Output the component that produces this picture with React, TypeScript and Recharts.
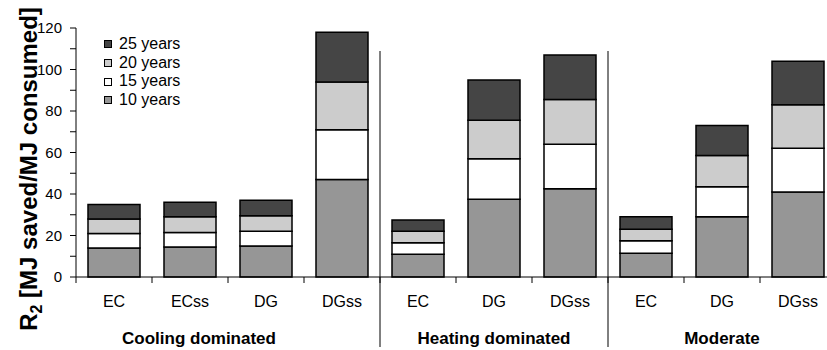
import { BarChart, Bar, XAxis, YAxis } from "recharts";

// category labels along the x axis (3 climate groups)
const categories = ["EC", "ECss", "DG", "DGss", "EC", "DG", "DGss", "EC", "DG", "DGss"];
const groupNames = ["Cooling dominated", "Heating dominated", "Moderate"];

// cumulative R2 after n years (top edge of each segment)
const yrs10 = [14, 14.5, 15, 47, 11, 37.5, 42.5, 11.5, 29, 41];
const yrs15 = [21, 21.5, 22, 71, 16.5, 57, 64, 17.5, 43.5, 62];
const yrs20 = [28, 29, 29.5, 94, 22, 75.5, 85.5, 23, 58.5, 83];
const yrs25 = [35, 36, 37, 118, 27.5, 95, 107, 29, 73, 104];

const yTicks = [0, 10, 20, 30, 40, 50, 60, 70, 80, 90, 100, 110, 120];

const series = [
  { key: "y10", name: "10 years", color: "#969696" },
  { key: "y15", name: "15 years", color: "#ffffff" },
  { key: "y20", name: "20 years", color: "#cccccc" },
  { key: "y25", name: "25 years", color: "#454545" },
];

const data = categories.map((c, i) => ({
  id: i + "-" + c,
  y10: yrs10[i],
  y15: yrs15[i] - yrs10[i],
  y20: yrs20[i] - yrs15[i],
  y25: yrs25[i] - yrs20[i],
}));

const FONT = "'Liberation Sans', Arial, sans-serif";
const HALF = 38; // half a category band

function CatTick(props: any) {
  const { x, y, payload } = props;
  const i = payload.index;
  return (
    <g>
      <line x1={x - HALF} x2={x - HALF} y1={y} y2={y + 6} stroke="#000" />
      {i === categories.length - 1 && (
        <line x1={x + HALF} x2={x + HALF} y1={y} y2={y + 6} stroke="#000" />
      )}
      <text x={x} y={y + 30} textAnchor="middle" fontSize={16} fontFamily={FONT} fill="#000">
        {categories[i]}
      </text>
      {(i === 4 || i === 7) && (
        <line x1={x - HALF} x2={x - HALF} y1={y - 226} y2={y + 70} stroke="#000" />
      )}
      {i === 1 && (
        <text x={x + 9} y={y + 67} textAnchor="middle" fontSize={17} fontWeight="bold" fontFamily={FONT} fill="#000">
          {groupNames[0]}
        </text>
      )}
      {i === 5 && (
        <text x={x} y={y + 67} textAnchor="middle" fontSize={17} fontWeight="bold" fontFamily={FONT} fill="#000">
          {groupNames[1]}
        </text>
      )}
      {i === 8 && (
        <text x={x} y={y + 67} textAnchor="middle" fontSize={17} fontWeight="bold" fontFamily={FONT} fill="#000">
          {groupNames[2]}
        </text>
      )}
    </g>
  );
}

function LegendBox() {
  return (
    <div
      style={{
        position: "absolute",
        left: 104,
        top: 35,
        fontFamily: FONT,
        fontSize: 16,
        lineHeight: "18.7px",
        color: "#000",
      }}
    >
      {[...series].reverse().map((s) => (
        <div key={s.key} style={{ display: "flex", alignItems: "center" }}>
          <span
            style={{
              display: "inline-block",
              width: 6,
              height: 6,
              border: "1px solid #000",
              background: s.color,
              marginRight: 7,
            }}
          />
          {s.name}
        </div>
      ))}
    </div>
  );
}

export default function App() {
  return (
    <div
      style={{
        position: "fixed",
        left: 0,
        top: 0,
        width: 827,
        height: 350,
        overflow: "hidden",
        background: "#fff",
      }}
    >
      <BarChart
        width={850}
        height={350}
        data={data}
        margin={{ top: 28, right: 14, left: 0, bottom: 43 }}
      >
        <XAxis
          dataKey="id"
          height={30}
          tickSize={0}
          tickMargin={0}
          tickLine={false}
          interval={0}
          axisLine={{ stroke: "#000" }}
          tick={CatTick}
        />
        <YAxis
          width={76}
          domain={[0, 120]}
          ticks={yTicks}
          interval={0}
          tickSize={6}
          tickMargin={8}
          axisLine={{ stroke: "#000" }}
          tickLine={{ stroke: "#000" }}
          tick={{ fill: "#000", fontSize: 15, fontFamily: FONT }}
          tickFormatter={(v: number) => (v % 20 === 0 ? String(v) : "")}
        />
        {series.map((s) => (
          <Bar
            key={s.key}
            dataKey={s.key}
            name={s.name}
            stackId="a"
            fill={s.color}
            stroke="#000"
            strokeWidth={1.5}
            barSize={52}
            isAnimationActive={false}
          />
        ))}
        <text
          transform="translate(37,169) rotate(-90)"
          textAnchor="middle"
          fontSize={24}
          fontWeight="bold"
          fontFamily={FONT}
          fill="#000"
        >
          R<tspan fontSize={16} dy={5}>2</tspan>
          <tspan dy={-5}> [MJ saved/MJ consumed]</tspan>
        </text>
      </BarChart>
      <LegendBox />
    </div>
  );
}
